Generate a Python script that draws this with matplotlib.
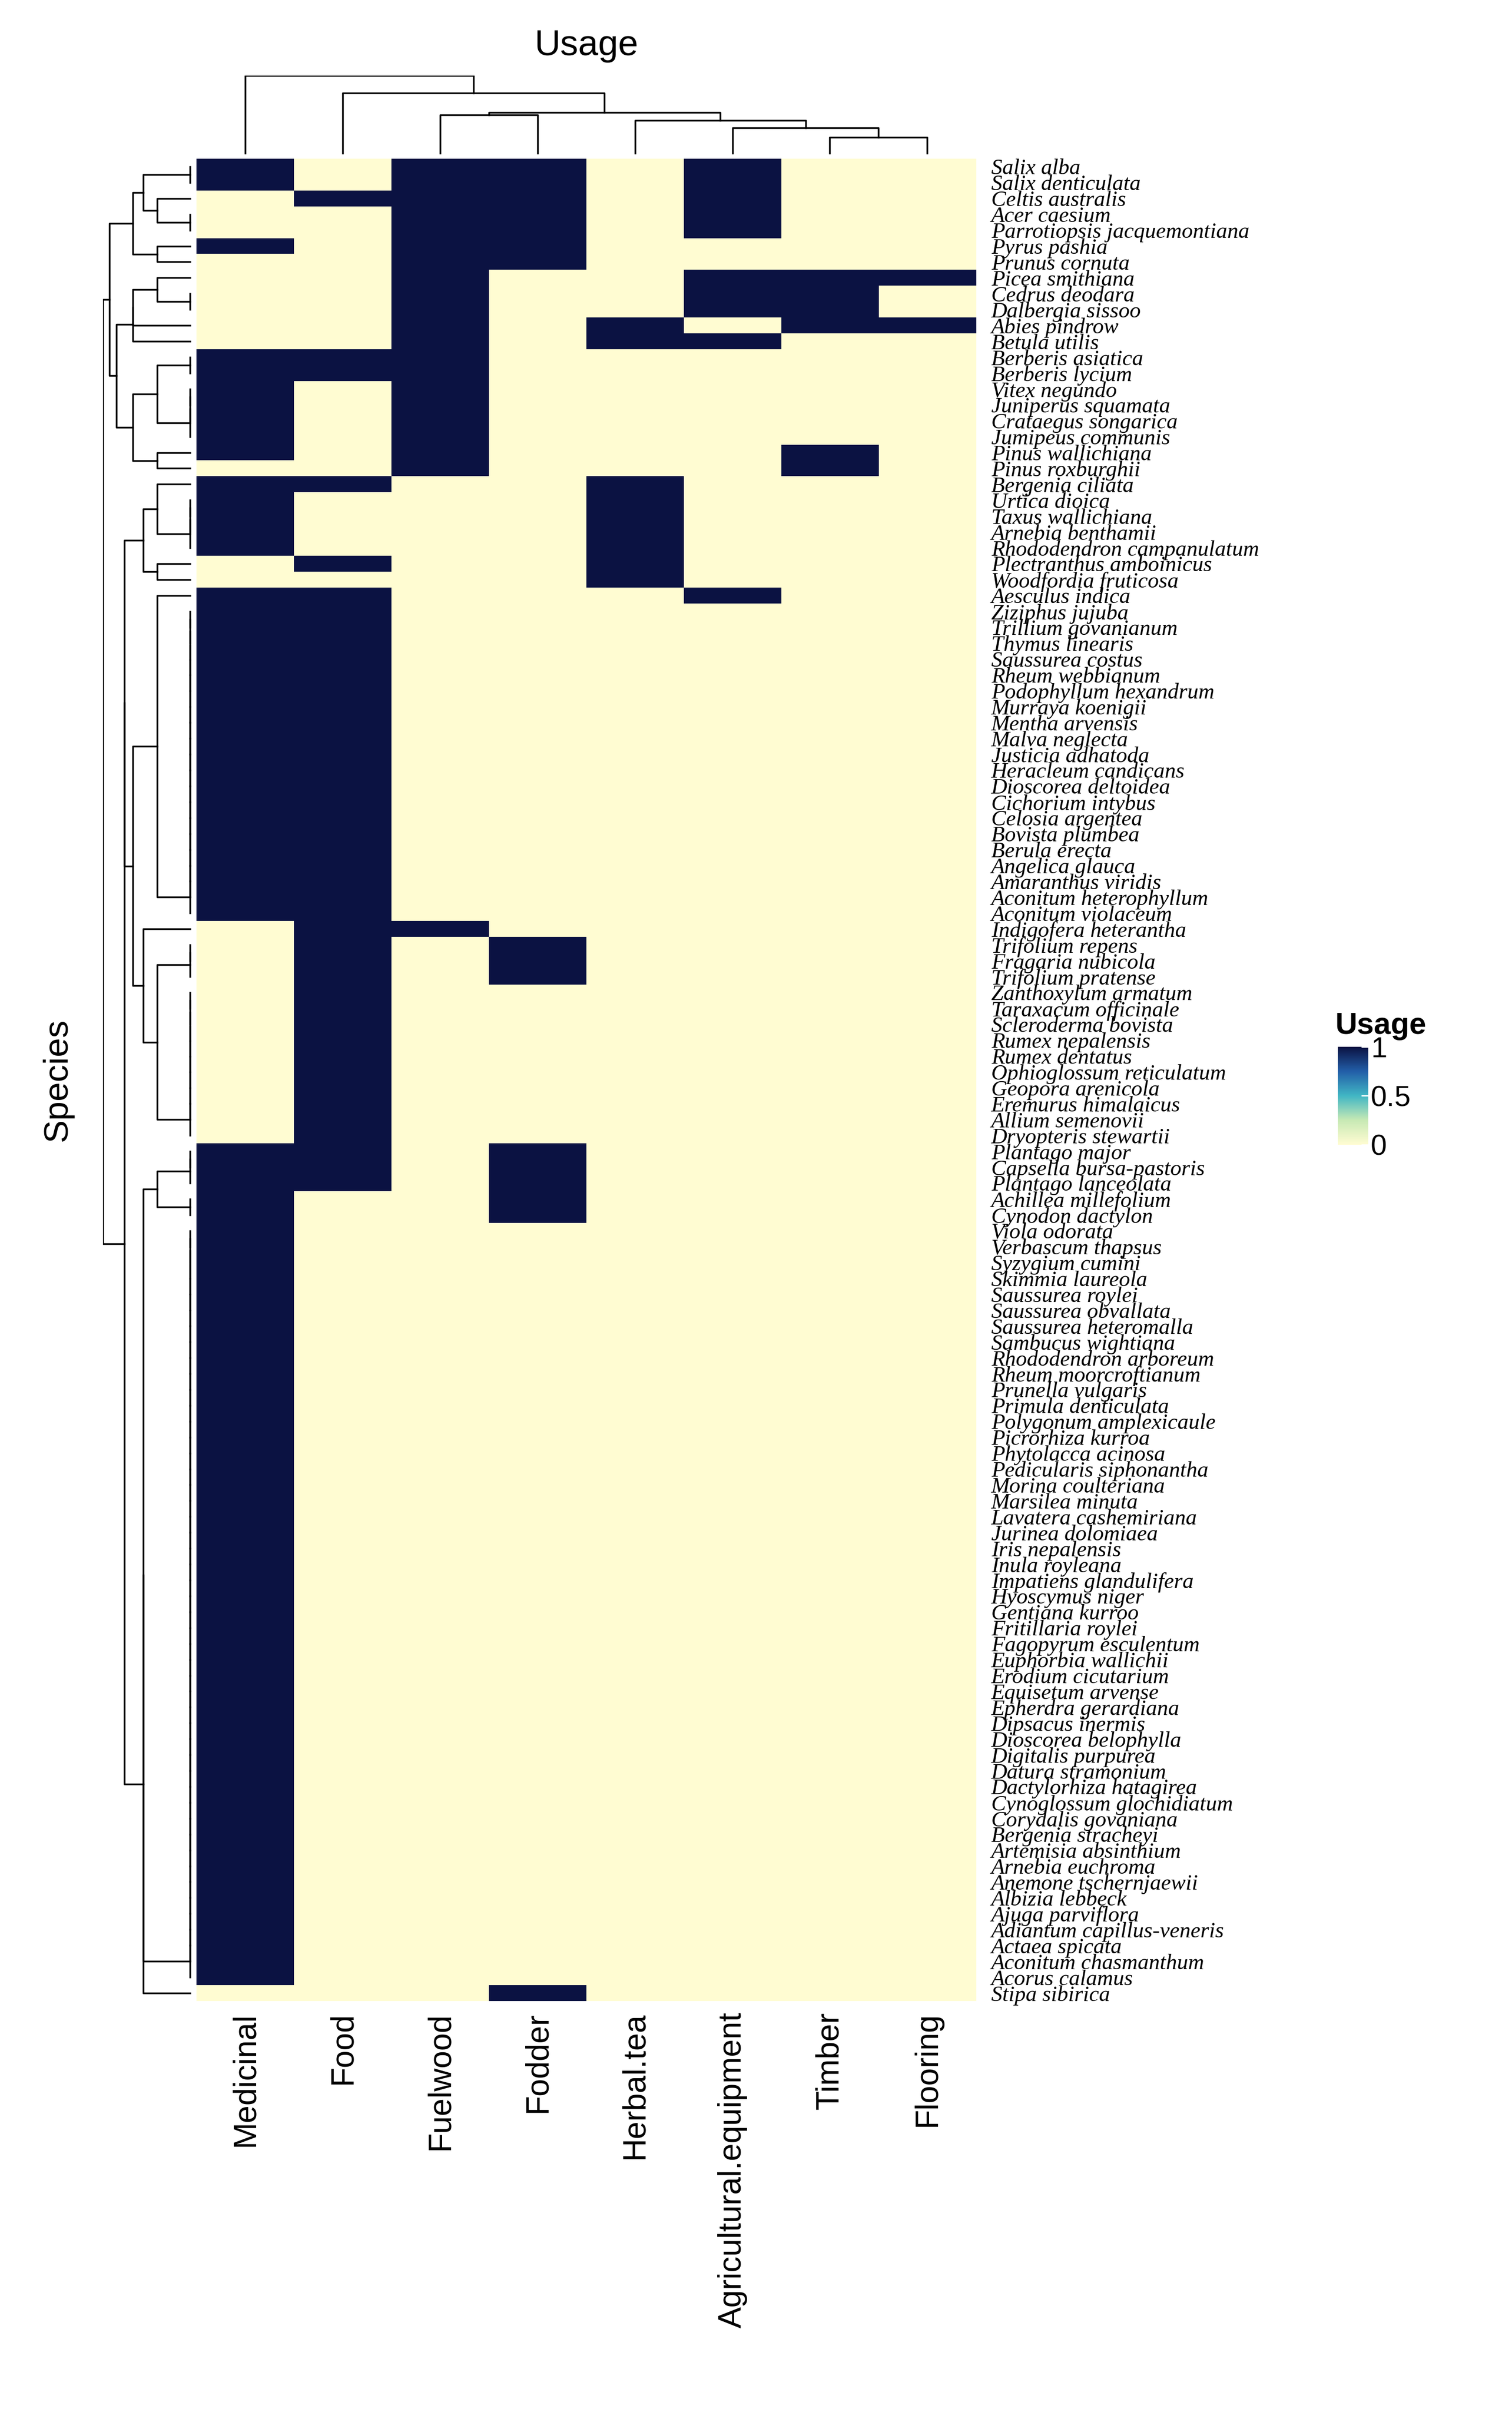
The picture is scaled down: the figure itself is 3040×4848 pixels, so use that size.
import numpy as np
import matplotlib
matplotlib.use("Agg")
import matplotlib.pyplot as plt
from matplotlib.colors import LinearSegmentedColormap

usages = ["Medicinal", "Food", "Fuelwood", "Fodder", "Herbal.tea",
          "Agricultural.equipment", "Timber", "Flooring"]
M, F, FW, FD, HT, AG, T, FL = range(8)

species_uses = [
    ("Salix alba", [M, FW, FD, AG]),
    ("Salix denticulata", [M, FW, FD, AG]),
    ("Celtis australis", [F, FW, FD, AG]),
    ("Acer caesium", [FW, FD, AG]),
    ("Parrotiopsis jacquemontiana", [FW, FD, AG]),
    ("Pyrus pashia", [M, FW, FD]),
    ("Prunus cornuta", [FW, FD]),
    ("Picea smithiana", [FW, AG, T, FL]),
    ("Cedrus deodara", [FW, AG, T]),
    ("Dalbergia sissoo", [FW, AG, T]),
    ("Abies pindrow", [FW, HT, T, FL]),
    ("Betula utilis", [FW, HT, AG]),
    ("Berberis asiatica", [M, F, FW]),
    ("Berberis lycium", [M, F, FW]),
    ("Vitex negundo", [M, FW]),
    ("Juniperus squamata", [M, FW]),
    ("Crataegus songarica", [M, FW]),
    ("Jumipeus communis", [M, FW]),
    ("Pinus wallichiana", [M, FW, T]),
    ("Pinus roxburghii", [FW, T]),
    ("Bergenia ciliata", [M, F, HT]),
    ("Urtica dioica", [M, HT]),
    ("Taxus wallichiana", [M, HT]),
    ("Arnebia benthamii", [M, HT]),
    ("Rhododendron campanulatum", [M, HT]),
    ("Plectranthus amboinicus", [F, HT]),
    ("Woodfordia fruticosa", [HT]),
    ("Aesculus indica", [M, F, AG]),
]
mf_species = ["Ziziphus jujuba", "Trillium govanianum", "Thymus linearis", "Saussurea costus",
              "Rheum webbianum", "Podophyllum hexandrum", "Murraya koenigii", "Mentha arvensis",
              "Malva neglecta", "Justicia adhatoda", "Heracleum candicans", "Dioscorea deltoidea",
              "Cichorium intybus", "Celosia argentea", "Bovista plumbea", "Berula erecta",
              "Angelica glauca", "Amaranthus viridis", "Aconitum heterophyllum", "Aconitum violaceum"]
species_uses += [(s, [M, F]) for s in mf_species]
species_uses += [("Indigofera heterantha", [F, FW]),
                 ("Trifolium repens", [F, FD]),
                 ("Fragaria nubicola", [F, FD]),
                 ("Trifolium pratense", [F, FD])]
food_species = ["Zanthoxylum armatum", "Taraxacum officinale", "Scleroderma bovista",
                "Rumex nepalensis", "Rumex dentatus", "Ophioglossum reticulatum",
                "Geopora arenicola", "Eremurus himalaicus", "Allium semenovii", "Dryopteris stewartii"]
species_uses += [(s, [F]) for s in food_species]
species_uses += [("Plantago major", [M, F, FD]),
                 ("Capsella bursa-pastoris", [M, F, FD]),
                 ("Plantago lanceolata", [M, F, FD]),
                 ("Achillea millefolium", [M, FD]),
                 ("Cynodon dactylon", [M, FD])]
med_species = ["Viola odorata", "Verbascum thapsus", "Syzygium cumini", "Skimmia laureola",
               "Saussurea roylei", "Saussurea obvallata", "Saussurea heteromalla",
               "Sambucus wightiana", "Rhododendron arboreum", "Rheum moorcroftianum",
               "Prunella vulgaris", "Primula denticulata", "Polygonum amplexicaule",
               "Picrorhiza kurroa", "Phytolacca acinosa", "Pedicularis siphonantha",
               "Morina coulteriana", "Marsilea minuta", "Lavatera cashemiriana",
               "Jurinea dolomiaea", "Iris nepalensis", "Inula royleana", "Impatiens glandulifera",
               "Hyoscymus niger", "Gentiana kurroo", "Fritillaria roylei", "Fagopyrum esculentum",
               "Euphorbia wallichii", "Erodium cicutarium", "Equisetum arvense",
               "Epherdra gerardiana", "Dipsacus inermis", "Dioscorea belophylla",
               "Digitalis purpurea", "Datura stramonium", "Dactylorhiza hatagirea",
               "Cynoglossum glochidiatum", "Corydalis govaniana", "Bergenia stracheyi",
               "Artemisia absinthium", "Arnebia euchroma", "Anemone tschernjaewii",
               "Albizia lebbeck", "Ajuga parviflora", "Adiantum capillus-veneris",
               "Actaea spicata", "Aconitum chasmanthum", "Acorus calamus"]
species_uses += [(s, [M]) for s in med_species]
species_uses += [("Stipa sibirica", [FD])]

species = [s for s, _ in species_uses]
mat = np.zeros((len(species), len(usages)))
for i, (_, u) in enumerate(species_uses):
    mat[i, u] = 1


def ordered_linkage(X):
    """complete-linkage clustering restricted to neighbours in the displayed order"""
    n = len(X)
    D = np.sqrt(((X[:, None, :] - X[None, :, :]) ** 2).sum(-1))
    clusters = [dict(members=[i], pos=float(i), h=0.0) for i in range(n)]
    segs = []
    while len(clusters) > 1:
        best = None
        for k in range(len(clusters) - 1):
            a, b = clusters[k], clusters[k + 1]
            d = D[np.ix_(a["members"], b["members"])].max()
            if best is None or d < best[0] - 1e-9:
                best = (d, k)
        d, k = best
        a, b = clusters[k], clusters[k + 1]
        segs.append((a["pos"], a["h"], b["pos"], b["h"], d))
        clusters[k:k + 2] = [dict(members=a["members"] + b["members"],
                                  pos=(a["pos"] + b["pos"]) / 2, h=d)]
    return segs, clusters[0]["h"]


W, H = 3040, 4848
fig = plt.figure(figsize=(W / 100, H / 100), dpi=100)
cmap = LinearSegmentedColormap.from_list("u", ["#fffcd2", "#c7e9b4", "#41b6c4", "#225ea8", "#0b1242"])

hm_l, hm_b, hm_w, hm_h = 0.130, 0.1704, 0.5155, 0.7638
ax = fig.add_axes([hm_l, hm_b, hm_w, hm_h])
im = ax.imshow(mat, aspect="auto", cmap=cmap, vmin=0, vmax=1, interpolation="nearest")
ax.set_xticks(range(len(usages)))
ax.set_xticklabels(usages, rotation=90, fontsize=46, family="Liberation Sans")
ax.set_yticks(range(len(species)))
ax.set_yticklabels(species, fontsize=32, family="Liberation Serif", style="italic")
ax.yaxis.tick_right()
ax.tick_params(axis="y", length=0, pad=22)
ax.tick_params(axis="x", length=0, pad=16)
for s in ax.spines.values():
    s.set_visible(False)
fig.text(0.038, hm_b + hm_h / 2, "Species", rotation=90, fontsize=50,
         family="Liberation Sans", ha="center", va="center")

# row dendrogram
rd = fig.add_axes([0.068, hm_b, 0.060, hm_h])
segs, top = ordered_linkage(mat)
for p1, h1, p2, h2, d in segs:
    rd.plot([h1, d, d, h2], [p1, p1, p2, p2], color="black", lw=2.5)
rd.set_ylim(len(species) - 0.5, -0.5)
rd.set_xlim(top * 1.0, -top * 0.04)
rd.axis("off")

# column dendrogram
cd = fig.add_axes([hm_l, 0.9354, hm_w, 0.0332])
segs, top = ordered_linkage(mat.T)
for p1, h1, p2, h2, d in segs:
    cd.plot([p1, p1, p2, p2], [h1, d, d, h2], color="black", lw=2.5)
cd.set_xlim(-0.5, len(usages) - 0.5)
cd.set_ylim(-top * 0.03, top * 1.0)
cd.axis("off")

fig.text(hm_l + hm_w / 2, 0.981, "Usage", fontsize=52, family="Liberation Sans",
         ha="center", va="center")

# colour bar
cax = fig.add_axes([0.885, 0.5254, 0.020, 0.0406])
cb = fig.colorbar(im, cax=cax, ticks=[0, 0.5, 1])
cb.ax.set_yticklabels(["0", "0.5", "1"])
cb.outline.set_visible(False)
cb.ax.tick_params(labelsize=42, length=10, color="white", direction="in", width=2)
for t in cb.ax.get_yticklabels():
    t.set_family("Liberation Sans")
fig.text(0.883, 0.5745, "Usage", fontsize=44, fontweight="bold", family="Liberation Sans",
         ha="left", va="center")

fig.savefig("out.png", dpi=100)
